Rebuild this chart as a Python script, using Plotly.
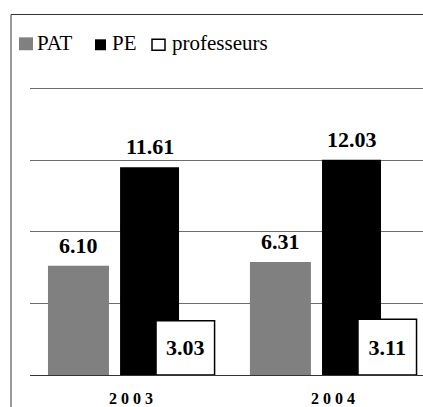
import plotly.graph_objects as go

# Data
CATEGORIES = ["2003", "2004"]
TICK_LABELS = ["2 0 0 3", "2 0 0 4"]
SERIES = ["PAT", "PE", "professeurs"]
PAT = [6.10, 6.31]
PE = [11.61, 12.03]
PROFESSEURS = [3.03, 3.11]

# Page geometry (pixels)
W, H = 423, 407
L, R, T, B = 30, 0, 85, 30

SERIF = "Liberation Serif"


def px_x(px):
    return (px - L) / (W - L - R)


def px_y(py):
    return (H - B - py) / (H - T - B)


# bar placement within each category (offset, width, in category units)
STYLE = {
    "PAT": dict(offset=-0.411, width=0.302, color="#808080", line=0),
    "PE": dict(offset=-0.054, width=0.292, color="#000000", line=0),
    "professeurs": dict(offset=0.124, width=0.290, color="#ffffff", line=1.5),
}

fig = go.Figure()

for name, vals in zip(SERIES, [PAT, PE, PROFESSEURS]):
    st = STYLE[name]
    kw = {}
    if name == "professeurs":
        kw = dict(
            texttemplate="%{y:.2f}",
            textposition="inside",
            insidetextanchor="middle",
            insidetextfont=dict(family=SERIF, size=22, color="#000000", weight="bold"),
            constraintext="none",
        )
    fig.add_trace(go.Bar(
        name=name,
        x=CATEGORIES,
        y=vals,
        offset=st["offset"],
        width=st["width"],
        marker=dict(color=st["color"], line=dict(color="#000000", width=st["line"])),
        showlegend=False,
        hoverinfo="skip",
        **kw,
    ))

annotations = []
# value labels above the PAT and PE bars
for name, vals in zip(["PAT", "PE"], [PAT, PE]):
    st = STYLE[name]
    for i, v in enumerate(vals):
        annotations.append(dict(
            x=i + st["offset"] + st["width"] / 2, y=v, xref="x", yref="y",
            text=f"{v:.2f}", showarrow=False, yanchor="bottom", yshift=6,
            font=dict(family=SERIF, size=22, color="#000000", weight="bold"),
        ))

# legend row
legend_items = [
    ("PAT", (19, 37, 33, 50), "#808080", 0, 35),
    ("PE", (95, 39, 106, 50), "#000000", 0, 110),
    ("professeurs", (152, 39, 165, 50), "#ffffff", 1.5, 170),
]
shapes = []
for label, (x0, y0, x1, y1), col, lw, tx in legend_items:
    shapes.append(dict(
        type="rect", xref="paper", yref="paper",
        x0=px_x(x0), x1=px_x(x1), y0=px_y(y1), y1=px_y(y0),
        fillcolor=col, line=dict(color="#000000", width=lw),
    ))
    annotations.append(dict(
        x=px_x(tx), y=px_y(43), xref="paper", yref="paper",
        text=label, showarrow=False, xanchor="left", yanchor="middle",
        font=dict(family=SERIF, size=21, color="#000000"),
    ))

# outer chart frame
shapes.append(dict(
    type="rect", xref="paper", yref="paper", layer="below",
    x0=px_x(11), x1=px_x(700), y0=px_y(700), y1=px_y(14),
    line=dict(color="#333333", width=1), fillcolor="rgba(0,0,0,0)",
))

fig.update_layout(
    width=W, height=H,
    margin=dict(l=L, r=R, t=T, b=B, pad=0),
    paper_bgcolor="#ffffff", plot_bgcolor="#ffffff",
    barmode="overlay",
    showlegend=False,
    hovermode=False,
    font=dict(family=SERIF),
    shapes=shapes,
    annotations=annotations,
    xaxis=dict(
        type="category",
        range=[-0.5, 1.446],
        tickvals=CATEGORIES, ticktext=TICK_LABELS,
        tickfont=dict(family=SERIF, size=16, color="#000000", weight="bold"),
        showgrid=False, zeroline=False,
        showline=True, linecolor="#333333", linewidth=1,
        ticks="", ticklabelstandoff=9,
        fixedrange=True,
    ),
    yaxis=dict(
        range=[0, 16.2], dtick=4, tick0=0,
        showticklabels=False, ticks="",
        showgrid=True, gridcolor="#6b6b6b", gridwidth=1,
        zeroline=False, showline=False,
        fixedrange=True,
    ),
)

fig.write_html("out.html")
